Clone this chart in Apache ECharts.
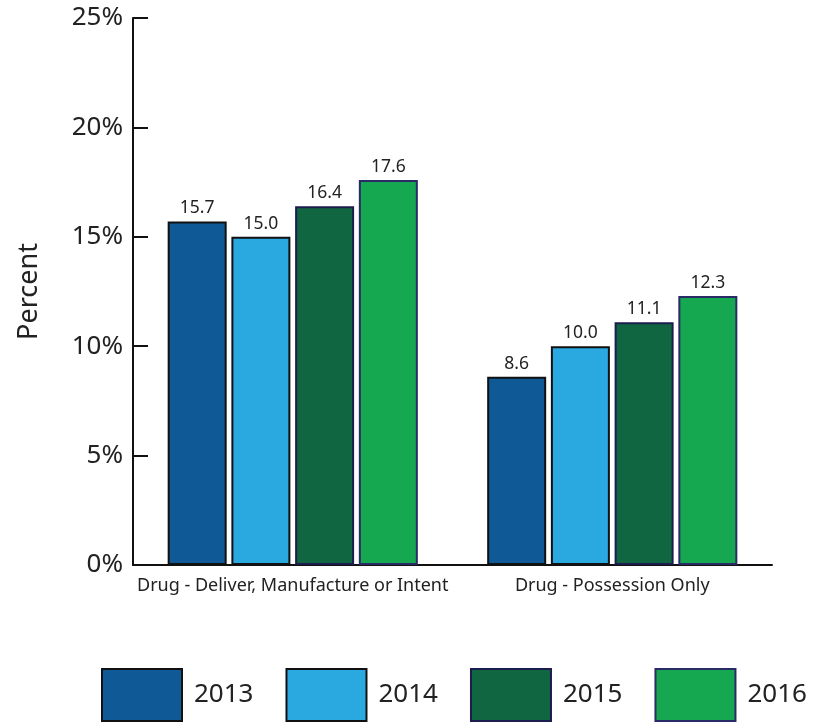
<!DOCTYPE html>
<html><head><meta charset="utf-8">
<script src="https://cdn.jsdelivr.net/npm/echarts@6/dist/echarts.min.js"></script>
<style>html,body{margin:0;padding:0;background:#fff}#c{width:816px;height:728px}</style>
</head><body><div id="c"></div>
<script>
const categories = ["Drug - Deliver, Manufacture or Intent", "Drug - Possession Only"];
const years = ["2013", "2014", "2015", "2016"];
const v2013 = [15.7, 8.6];
const v2014 = [15.0, 10.0];
const v2015 = [16.4, 11.1];
const v2016 = [17.6, 12.3];
const yTicks = [0, 5, 10, 15, 20, 25];

const values = [v2013, v2014, v2015, v2016];
const fills = ["#0f5a96", "#2aa8e0", "#0f6640", "#15a850"];
const borders = ["#111111", "#111111", "#1c1c50", "#2a2a66"];
const font = "Noto Sans";

const chart = echarts.init(document.getElementById('c'));
chart.setOption({
  animation: false,
  grid: {left: 133, right: 44, top: 18, bottom: 163},
  legend: {
    left: 101, top: 668, padding: 0, itemWidth: 80, itemHeight: 52, itemGap: 32, icon: 'rect',
    textStyle: {fontFamily: font, fontSize: 26, color: "#222", padding: [0,0,0,7]},
    data: years
  },
  xAxis: {
    type: 'category', data: categories,
    axisLine: {lineStyle: {color: '#111', width: 2}},
    axisTick: {inside: true, length: 12, lineStyle: {color: '#111', width: 2}},
    axisLabel: {interval: 0, fontFamily: font, fontSize: 18, color: '#222', margin: 12}
  },
  yAxis: {
    type: 'value', min: 0, max: 25, interval: 5,
    name: 'Percent', nameLocation: 'middle', nameGap: 90, nameRotate: 90,
    nameTextStyle: {fontFamily: font, fontSize: 27, color: '#222'},
    axisLine: {show: true, lineStyle: {color: '#111', width: 2}},
    axisTick: {show: true, inside: true, length: 15, lineStyle: {color: '#111', width: 2}},
    splitLine: {show: false},
    axisLabel: {fontFamily: font, fontSize: 26, color: '#222', margin: 10,
      formatter: v => yTicks.includes(v) ? v + '%' : ''}
  },
  series: years.map((y, i) => ({
    name: y, type: 'bar', data: values[i], barWidth: 59, barGap: '8%',
    itemStyle: {color: fills[i], borderColor: borders[i], borderWidth: 2},
    label: {show: true, position: 'top', distance: 4, fontFamily: font, fontSize: 17.5, color: '#222',
      formatter: p => p.value.toFixed(1)}
  }))
});
</script></body></html>
